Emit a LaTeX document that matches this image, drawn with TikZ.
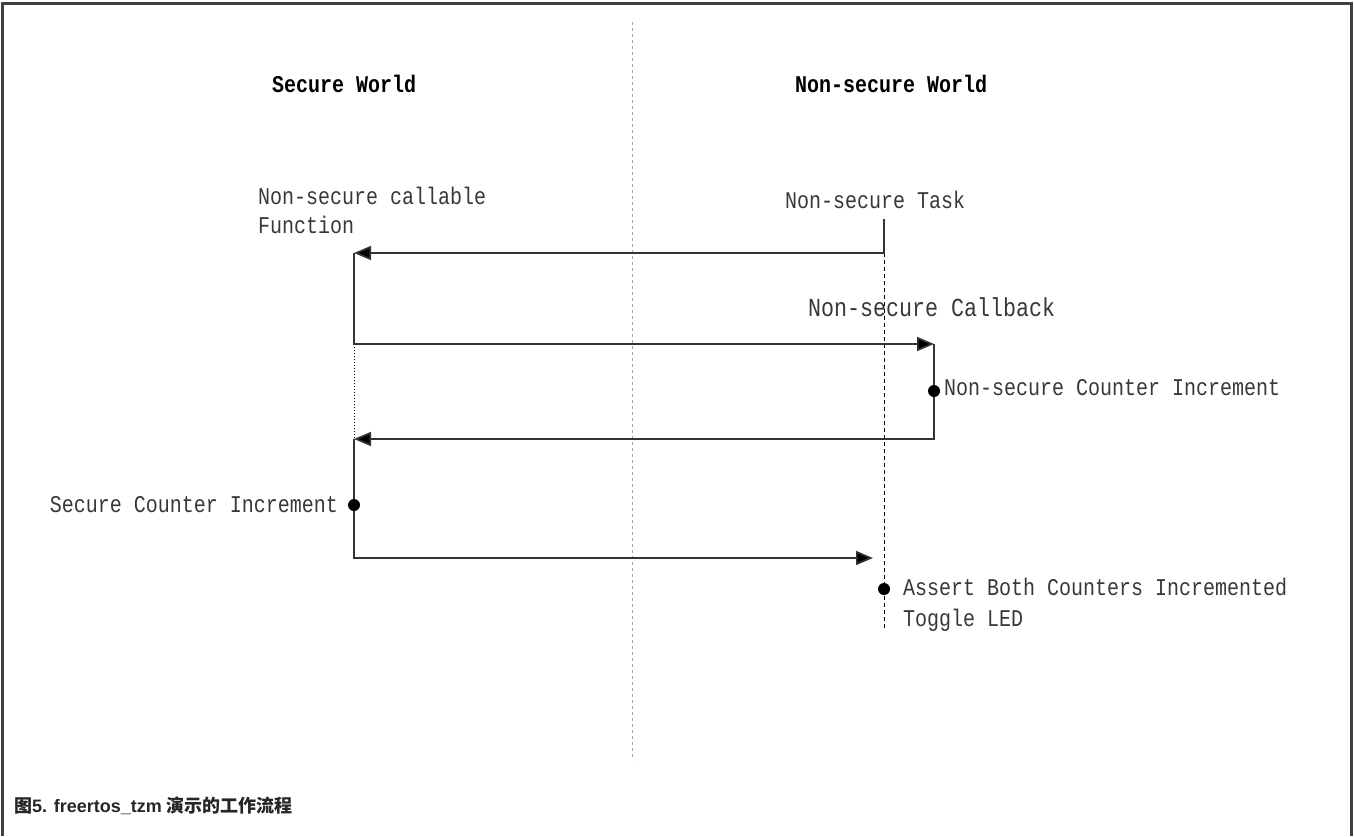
\documentclass[tikz,border=0pt]{standalone}
\usepackage{fontspec}
\setmainfont{Liberation Sans}
\newfontfamily\monof[FakeStretch=0.833]{Liberation Mono}
\newfontfamily\cjkf{Noto Sans CJK SC}
\usetikzlibrary{arrows.meta}
\tikzset{
  lbl/.style={font=\monof\fontsize{24}{29}\selectfont, text=black!78, inner sep=0pt, anchor=base west},
  biglbl/.style={font=\monof\fontsize{26}{31}\selectfont, text=black!78, inner sep=0pt, anchor=base west},
  ttl/.style={font=\monof\bfseries\fontsize{24}{29}\selectfont, text=black, inner sep=0pt, anchor=base west},
  flow/.style={draw=black!80, line width=1.7pt, -{Triangle[length=17pt,width=14pt,fill=black]}},
  dotmark/.style={circle, fill=black, draw=none, inner sep=0pt, minimum size=12pt},
  frameline/.style={draw=black!75, line width=3pt},
  world/.style={draw=black!35, line width=1pt, dash pattern=on 3pt off 3pt},
  life/.style={draw=black, line width=1pt, dash pattern=on 4pt off 3pt},
  secdots/.style={draw=black, line width=1pt, dotted},
}
\begin{document}
\begin{tikzpicture}[x=1pt,y=-1pt]
\useasboundingbox (0,0) rectangle (1354,836);
% frame (open at the bottom)
\coordinate (fbl) at (2,836);
\coordinate (ftl) at (2,3);
\coordinate (ftr) at (1351,3);
\coordinate (fbr) at (1351,836);
\draw[frameline] (fbl) -- (ftl) -- (ftr) -- (fbr);
% world divider
\coordinate (wtop) at (632,22);
\coordinate (wbot) at (632,760);
\draw[world] (wtop) -- (wbot);
% titles
\node[ttl] (sw) at (272,92) {Secure World};
\node[ttl] (nsw) at (795,92) {Non-secure World};
% labels
\node[lbl] (nscf1) at (258,204) {Non-secure callable};
\node[lbl] (nscf2) at (258,233) {Function};
\node[lbl] (nstask) at (785,208) {Non-secure Task};
\node[biglbl] (nscb) at (808,316) {Non-secure Callback};
\node[lbl] (nsci) at (944,395) {Non-secure Counter Increment};
\node[lbl, anchor=base east] (sci) at (338,512) {Secure Counter Increment};
\node[lbl] (abc) at (903,595) {Assert Both Counters Incremented};
\node[lbl] (tled) at (903,626) {Toggle LED};
% key points
\coordinate (t0) at (884,219);
\coordinate (t1) at (884,253);
\coordinate (s1) at (354,253);
\coordinate (s2) at (354,344);
\coordinate (n1) at (934,344);
\coordinate (n2) at (934,439);
\coordinate (s3) at (354,439);
\coordinate (s4) at (354,558);
\coordinate (e1) at (873,558);
\coordinate (tend) at (884,630);
% lifelines
\draw[life] (t1) -- (tend);
\draw[secdots] (s2) -- (s3);
% flow
\draw[flow] (t0) -- (t1) -- (s1);
\draw[flow] (s1) -- (s2) -- (n1);
\draw[flow] (n1) -- (n2) -- (s3);
\draw[flow] (s3) -- (s4) -- (e1);
% dots
\node[dotmark] (d1) at (934,391) {};
\node[dotmark] (d2) at (354,505) {};
\node[dotmark] (d3) at (884,589) {};
% caption
\node[anchor=base west, inner sep=0pt, font=\bfseries\fontsize{18}{22}\selectfont, text=black!85] (cap) at (14,812) {{\cjkf 图}5. freertos\_tzm {\cjkf 演示的工作流程}};
\end{tikzpicture}
\end{document}
